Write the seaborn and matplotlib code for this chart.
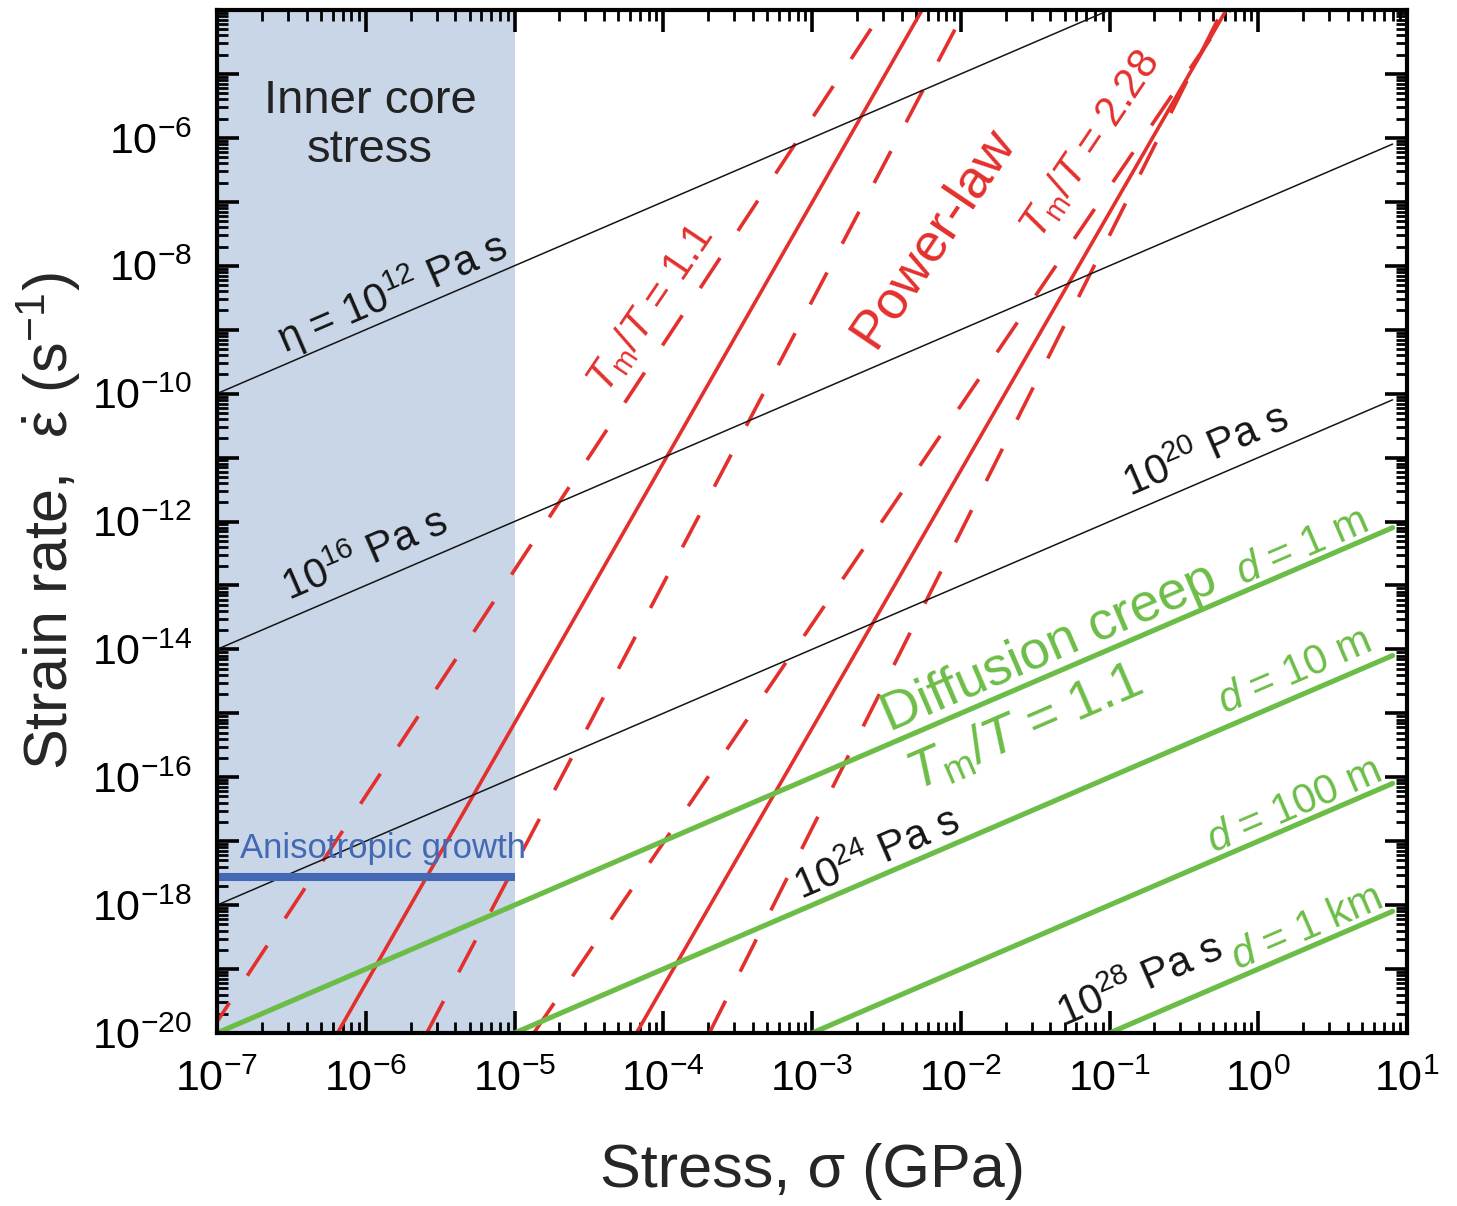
import numpy as np
import pandas as pd
import matplotlib
matplotlib.use("Agg")
import matplotlib.pyplot as plt
import seaborn as sns
from matplotlib.ticker import FixedLocator, FuncFormatter, LogLocator, NullFormatter

# ---------------- data ----------------
stress_limits = [1e-7, 1e1]          # GPa
rate_limits = [1e-20, 1e-4]          # s^-1
x_tick_exponents = list(range(-7, 2))
y_tick_exponents = list(range(-20, -3))
y_label_exponents = list(range(-20, -5, 2))

# Newtonian viscosity lines (log10 eta, Pa s)
visc_log_eta = [12, 16, 20, 24, 28]
visc_labels = ["η = 10$^{12}$ Pa s", "10$^{16}$ Pa s", "10$^{20}$ Pa s",
               "10$^{24}$ Pa s", "10$^{28}$ Pa s"]
visc_label_logx = [-5.82, -6.00, -0.35, -2.56, -0.79]
visc_label_logy = [-8.42, -12.55, -10.91, -17.22, -19.20]
line_stress_span = [1e-7, 8.0]       # GPa

# Diffusion creep lines (equivalent log10 viscosity)
diff_log_eta = [22, 24, 26, 28]
diff_labels = ["$d$ = 1 m", "$d$ = 10 m", "$d$ = 100 m", "$d$ = 1 km"]
diff_label_logx = [0.294, 0.240, 0.240, 0.321]
diff_label_logy = [-12.41, -14.35, -16.45, -18.37]

# Power-law creep lines: log10 stress (GPa) at strain rate 1e-20 and 1e-4
pl_group = ["1.1", "1.1", "1.1", "2.28", "2.28", "2.28"]
pl_kind = ["bound", "mean", "bound", "bound", "mean", "bound"]
pl_log_stress_low = [-7.05, -6.19, -5.59, -4.87, -4.18, -3.69]
pl_log_stress_high = [-2.52, -2.26, -1.97, -0.19, -0.215, -0.24]
pl_log_rate = [-20, -4]

# Inner core stress range and anisotropic growth rate
inner_core_stress = [1e-7, 1e-5]
aniso_rate = 2.75e-18

# ---------------- style ----------------
sns.set_theme(style="ticks")
plt.rcParams["font.family"] = ["Liberation Sans", "DejaVu Sans"]
plt.rcParams["mathtext.fontset"] = "custom"
plt.rcParams["mathtext.rm"] = "Liberation Sans"
plt.rcParams["mathtext.it"] = "Liberation Sans:italic"
plt.rcParams["mathtext.sf"] = "Liberation Sans"
plt.rcParams["mathtext.bf"] = "Liberation Sans:bold"

RED = "#e3302d"
GREEN = "#6cbd47"
BLUE = "#4468b4"
SHADE = "#c8d6e8"
BLACK = "#151515"

fig = plt.figure(figsize=(14.57, 12.06), dpi=100)
ax = fig.add_axes([217 / 1457, 1 - 1033 / 1206, 1190 / 1457, 1023 / 1206])
ax.set_xscale("log")
ax.set_yscale("log")
ax.set_xlim(*stress_limits)
ax.set_ylim(*rate_limits)
ax.set_facecolor("white")

# shaded inner core stress
ax.axvspan(inner_core_stress[0], inner_core_stress[1], color=SHADE, zorder=0, lw=0)

# power-law lines
for g, k, lo, hi in zip(pl_group, pl_kind, pl_log_stress_low, pl_log_stress_high):
    df = pd.DataFrame({"stress": [10.0 ** lo, 10.0 ** hi],
                       "rate": [10.0 ** pl_log_rate[0], 10.0 ** pl_log_rate[1]]})
    sns.lineplot(data=df, x="stress", y="rate", ax=ax, color=RED, lw=2.6,
                 sort=False, estimator=None, zorder=2)
    if k == "bound":
        ax.lines[-1].set_dashes((10, 9))

# viscosity lines
s = np.array(line_stress_span)
for le in visc_log_eta:
    df = pd.DataFrame({"stress": s, "rate": s * 1e9 / 10.0 ** le})
    sns.lineplot(data=df, x="stress", y="rate", ax=ax, color=BLACK, lw=1.1,
                 sort=False, estimator=None, zorder=3)

# diffusion creep lines
for le in diff_log_eta:
    df = pd.DataFrame({"stress": s, "rate": s * 1e9 / 10.0 ** le})
    sns.lineplot(data=df, x="stress", y="rate", ax=ax, color=GREEN, lw=3.7,
                 sort=False, estimator=None, zorder=4)

# anisotropic growth
dfa = pd.DataFrame({"stress": inner_core_stress, "rate": [aniso_rate, aniso_rate]})
sns.lineplot(data=dfa, x="stress", y="rate", ax=ax, color=BLUE, lw=5.8,
             sort=False, estimator=None, zorder=5, solid_capstyle="butt")

ax.set_xlim(*stress_limits)
ax.set_ylim(*rate_limits)

# ---------------- ticks ----------------
ax.xaxis.set_major_locator(FixedLocator([10.0 ** e for e in x_tick_exponents]))
ax.yaxis.set_major_locator(FixedLocator([10.0 ** e for e in y_tick_exponents]))
ax.xaxis.set_minor_locator(LogLocator(base=10, subs=np.arange(2, 10), numticks=100))
ax.yaxis.set_minor_locator(LogLocator(base=10, subs=np.arange(2, 10), numticks=100))
ax.xaxis.set_minor_formatter(NullFormatter())
ax.yaxis.set_minor_formatter(NullFormatter())


def xfmt(v, p):
    e = int(round(np.log10(v)))
    return "$10^{%d}$" % e


def yfmt(v, p):
    e = int(round(np.log10(v)))
    return "$10^{%d}$" % e if e in y_label_exponents else ""


ax.xaxis.set_major_formatter(FuncFormatter(xfmt))
ax.yaxis.set_major_formatter(FuncFormatter(yfmt))
ax.tick_params(which="both", direction="in", top=True, right=True, colors="black")
ax.tick_params(which="major", length=16, width=2.6, labelsize=31)
ax.tick_params(which="minor", length=8, width=2.0)
ax.tick_params(axis="x", which="major", pad=19)
ax.tick_params(axis="y", which="major", pad=18)
for sp in ax.spines.values():
    sp.set_linewidth(3.0)
    sp.set_color("black")
    sp.set_zorder(6)

ax.set_xlabel("Stress, σ (GPa)", fontsize=44)
ax.set_ylabel(r"Strain rate,  $\dot{\mathrm{\varepsilon}}$ (s$^{-1}$)", fontsize=44)
ax.xaxis.set_label_coords(0.5, -0.108)
ax.yaxis.set_label_coords(-0.113, 0.5)


def screen_angle(logx0, logy0, logx1, logy1):
    p0 = ax.transData.transform((10 ** logx0, 10 ** logy0))
    p1 = ax.transData.transform((10 ** logx1, 10 ** logy1))
    return np.degrees(np.arctan2(p1[1] - p0[1], p1[0] - p0[0]))


visc_angle = screen_angle(-6, -13, -5, -12)

for t, lx, ly in zip(visc_labels, visc_label_logx, visc_label_logy):
    ax.text(10 ** lx, 10 ** ly, t, fontsize=30, color=BLACK, rotation=visc_angle,
            rotation_mode="anchor", ha="center", va="center", zorder=7)

for t, lx, ly in zip(diff_labels, diff_label_logx, diff_label_logy):
    ax.text(10 ** lx, 10 ** ly, t, fontsize=30, color=GREEN, rotation=visc_angle,
            rotation_mode="anchor", ha="center", va="center", zorder=7)

ax.text(10 ** -1.407, 10 ** -13.98, "Diffusion creep", fontsize=39, color=GREEN,
        rotation=visc_angle, rotation_mode="anchor", ha="center", va="center", zorder=7)
ax.text(10 ** -1.568, 10 ** -15.23, r"$T_{\mathrm{m}}/T$ = 1.1", fontsize=39, color=GREEN,
        rotation=visc_angle, rotation_mode="anchor", ha="center", va="center", zorder=7)

red_angle = 56
ax.text(10 ** -4.082, 10 ** -8.66, r"$T_{\mathrm{m}}/T$ = 1.1", fontsize=30, color=RED,
        rotation=red_angle, rotation_mode="anchor", ha="center", va="center", zorder=7)
ax.text(10 ** -2.187, 10 ** -7.56, "Power-law", fontsize=39, color=RED,
        rotation=red_angle, rotation_mode="anchor", ha="center", va="center", zorder=7)
ax.text(10 ** -1.131, 10 ** -6.11, r"$T_{\mathrm{m}}/T$ = 2.28", fontsize=30, color=RED,
        rotation=red_angle, rotation_mode="anchor", ha="center", va="center", zorder=7)

ax.text(10 ** -5.971, 10 ** -5.80, "Inner core\nstress", fontsize=34, color="#222222",
        ha="center", va="center", linespacing=1.15, zorder=7)
ax.text(10 ** -6.845, 10 ** -17.11, "Anisotropic growth", fontsize=25, color=BLUE,
        ha="left", va="center", zorder=7)

fig.savefig("out.png", dpi=100)
